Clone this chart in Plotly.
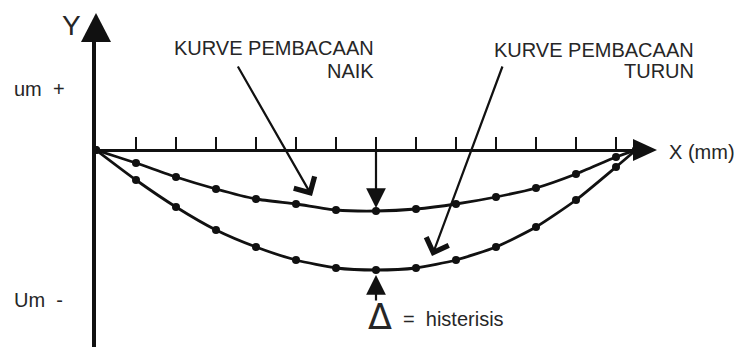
import plotly.graph_objects as go

# Stroke positions along the travel, in scale divisions
posisi = [0, 1, 2, 3, 4, 5, 6, 7, 8, 9, 10, 11, 12, 13, 13.5]
# Deviation readings (scale units) for the rising and the falling pass
naik = [0, -1.3, -2.7, -3.9, -4.9, -5.4, -6.0, -6.1, -5.9, -5.4, -4.7, -3.8, -2.4, -0.7, 0]
turun = [0, -3.0, -5.7, -8.0, -9.7, -11.0, -11.8, -12.0, -11.8, -11.0, -9.7, -7.7, -5.0, -1.7, 0]
# Scale divisions drawn on the X axis
skala_x = [1, 2, 3, 4, 5, 6, 7, 8, 9, 10, 11, 12, 13]
# Labels of the deviation limits on the Y side
label_y = ["um  +", "Um  -"]
nilai_label_y = [6.1, -15.0]
# Index of the reading where the hysteresis is largest
idx_maks = 7

W, H = 734, 347
X0, Y0 = 96, 150          # origin on the page (px)
PX_PER_X, PX_PER_Y = 40, 10

def dx(p):   # page px -> x data
    return (p - X0) / PX_PER_X

def dy(p):   # page px -> y data
    return -(p - Y0) / PX_PER_Y

def paper(px_, py_):
    return px_ / W, 1 - py_ / H

def py_of(val):  # y data -> page px
    return Y0 - val * PX_PER_Y

TEXT = "#262626"
INK = "#111111"
FONT = "Liberation Sans, Arial, sans-serif"

fig = go.Figure()
for seri in (naik, turun):
    fig.add_trace(go.Scatter(
        x=posisi, y=seri, mode="lines+markers",
        line=dict(color=INK, width=2.8, shape="spline", smoothing=0.6),
        marker=dict(color=INK, size=8),
        cliponaxis=False, showlegend=False, hoverinfo="skip",
    ))

annotations = []

def teks(t, px_, py_, size=20, xanchor="center", yanchor="middle", family=FONT):
    x, y = paper(px_, py_)
    annotations.append(dict(text=t, x=x, y=y, xref="paper", yref="paper", showarrow=False,
                            xanchor=xanchor, yanchor=yanchor,
                            font=dict(family=family, size=size, color=TEXT)))

def panah(x, y, ax, ay, head, size, width=2.2):
    annotations.append(dict(text="", x=x, y=y, ax=ax, ay=ay, xref="x", yref="y",
                            axref="x", ayref="y", showarrow=True, arrowhead=head,
                            arrowsize=size, arrowwidth=width, arrowcolor=INK,
                            standoff=0, startstandoff=0))

teks("Y", 71, 26, size=28)
teks("X (mm)", 667, 152, xanchor="left")
for lbl, val in zip(label_y, nilai_label_y):
    teks(lbl, 12, py_of(val), xanchor="left")

teks("KURVE PEMBACAAN", 376, 48, xanchor="right")
teks("NAIK", 376, 71, xanchor="right")
teks("KURVE PEMBACAAN", 696, 50, xanchor="right")
teks("TURUN", 696, 71, xanchor="right")

teks("\u0394", 380, 317, size=35, family="DejaVu Sans")
teks("=  histerisis", 401, 319, size=20, xanchor="left")

# pointers from the curve names to the curves
panah(dx(312), dy(196), dx(237), dy(65), head=4, size=2.1)
panah(dx(432), dy(256), dx(503), dy(65), head=4, size=2.1)
# hysteresis markers at the widest gap
panah(idx_maks, naik[idx_maks] + 0.3, idx_maks, 0, head=2, size=1.8)
panah(idx_maks, turun[idx_maks] - 0.5, idx_maks, dy(302), head=2, size=1.8)

# filled arrow heads at the ends of both axes
ty = paper(X0, 13); by1 = paper(X0 - 15, 42); by2 = paper(X0 + 15, 42)
tx = paper(657, Y0); bx1 = paper(633, Y0 - 11); bx2 = paper(633, Y0 + 11)
shapes = [
    dict(type="path", xref="paper", yref="paper", fillcolor=INK, line=dict(width=0),
         path=f"M{ty[0]},{ty[1]} L{by1[0]},{by1[1]} L{by2[0]},{by2[1]} Z"),
    dict(type="path", xref="paper", yref="paper", fillcolor=INK, line=dict(width=0),
         path=f"M{tx[0]},{tx[1]} L{bx1[0]},{bx1[1]} L{bx2[0]},{bx2[1]} Z"),
]

fig.update_layout(
    width=W, height=H, margin=dict(l=0, r=0, t=0, b=0),
    paper_bgcolor="white", plot_bgcolor="white",
    annotations=annotations, shapes=shapes,
    xaxis=dict(domain=[X0 / W, 636 / W], range=[0, 13.5], anchor="free",
               position=1 - Y0 / H, side="top", showline=True, linecolor=INK,
               linewidth=2.5, ticks="outside", tickvals=skala_x, ticklen=12,
               tickwidth=2, tickcolor=INK, showticklabels=False,
               showgrid=False, zeroline=False, fixedrange=True),
    yaxis=dict(domain=[0, (H - 42) / H], range=[dy(H), dy(42)], anchor="x",
               showline=True, linecolor=INK, linewidth=3.5, ticks="",
               showticklabels=False, showgrid=False, zeroline=False, fixedrange=True),
)

fig.write_html("out.html")
